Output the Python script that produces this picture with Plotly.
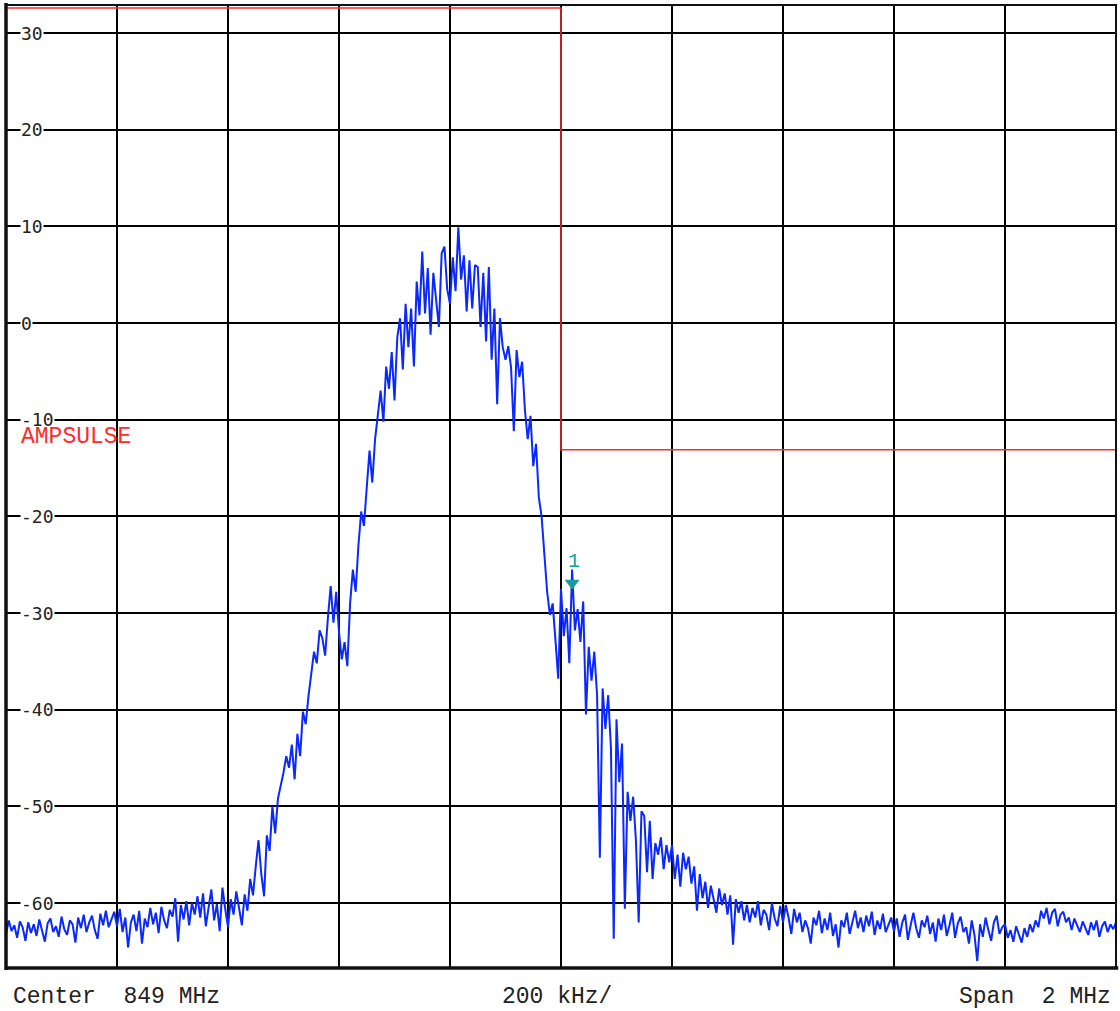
import plotly.graph_objects as go

# ---------------- data ----------------
f_start_mhz = 848.0
f_step_mhz = 0.005
trace_db = [
    -63.2, -61.8, -62.9, -62.3, -63.6, -61.9, -62.5, -63.9, -62.0, -63.1,
    -62.2, -63.4, -61.7, -62.8, -64.0, -62.1, -61.6, -63.0, -62.4, -63.5,
    -61.4, -62.7, -63.3, -61.8, -62.2, -64.1, -61.5, -62.6, -61.2, -63.0,
    -62.0, -61.3, -62.8, -63.7, -61.1, -62.3, -60.8, -62.5, -61.6, -60.9,
    -62.4, -60.6, -63.0, -61.5, -64.6, -62.0, -61.2, -62.9, -60.8, -64.2,
    -61.6, -62.5, -60.5, -62.2, -61.0, -63.1, -60.4, -61.8, -62.6, -60.7,
    -61.4, -59.5, -64.0, -60.2, -61.7, -59.8, -62.3, -60.0, -61.2, -59.3,
    -61.5, -59.0, -62.4, -60.3, -58.6, -61.8, -60.1, -62.9, -58.4, -60.6,
    -62.5, -59.6, -61.2, -58.8, -60.5, -62.3, -59.1, -60.8, -57.5, -59.2,
    -56.2, -53.5, -57.0, -59.3, -53.0, -54.6, -50.0, -52.8, -49.2, -48.0,
    -46.5, -44.8, -46.0, -43.6, -47.2, -42.5, -44.8, -40.2, -41.5, -38.6,
    -36.5, -34.0, -35.2, -31.8, -32.6, -34.4, -30.5, -27.2, -31.0, -27.8,
    -32.0, -34.8, -33.0, -35.5, -29.0, -25.5, -27.8, -23.0, -19.5, -21.0,
    -17.0, -13.2, -16.5, -12.0, -9.5, -7.0, -10.2, -4.5, -6.8, -3.0,
    -8.0, -1.5, 0.5, -4.8, 2.0, -2.5, 1.5, -4.5, 4.3, 0.8,
    7.4, 1.0, 5.7, -1.2, 5.2, 2.0, -0.4, 7.2, 7.9, 3.5,
    2.0, 6.8, 3.3, 9.9, 4.5, 7.0, 1.2, 6.5, 1.5, 6.0,
    5.8, -0.4, 5.2, -1.9, 5.8, -3.8, 1.5, -8.4, 0.5, -2.5,
    -3.8, -2.4, -4.6, -11.2, -2.8, -5.6, -4.0, -9.0, -12.0, -9.6,
    -14.8, -12.5, -18.0, -20.0, -24.5, -27.8, -30.2, -29.0, -32.8, -36.8,
    -27.5, -32.4, -29.5, -35.2, -25.5, -31.8, -29.6, -33.0, -28.8, -40.5,
    -33.5, -37.0, -34.0, -38.5, -55.3, -37.8, -42.0, -38.5, -44.0, -63.7,
    -41.0, -47.5, -43.5, -60.6, -48.5, -51.5, -49.0, -53.5, -62.0, -50.5,
    -51.0, -56.8, -51.5, -57.5, -53.8, -55.0, -53.2, -56.5, -54.0, -55.8,
    -54.0, -57.5, -55.0, -58.3, -54.8, -56.5, -55.2, -58.0, -56.2, -60.8,
    -57.0, -59.5, -57.8, -60.5, -58.2, -59.8, -61.0, -58.5, -60.2, -59.0,
    -61.2, -59.2, -64.3, -59.6, -61.0, -59.8, -61.8, -60.2, -62.0, -60.5,
    -61.5, -59.8, -62.3, -60.7, -61.2, -62.8, -60.0, -61.6, -62.4, -60.3,
    -62.0, -60.2, -61.5, -63.2, -60.6, -62.0, -61.0, -63.0, -61.8, -62.6,
    -64.2, -61.5, -62.3, -60.8, -63.1, -61.6, -62.8, -61.0, -63.4, -62.2,
    -64.6, -61.8, -62.5, -61.0, -63.2, -62.0, -60.8, -62.6, -61.5, -63.0,
    -61.3, -62.4, -60.9, -63.3, -61.8, -62.7, -61.1, -63.0, -62.2, -61.5,
    -62.9, -61.6, -63.5, -62.0, -61.2, -63.8, -62.3, -61.0, -62.6, -63.6,
    -61.8, -62.5, -61.3, -63.2, -62.0, -64.0, -61.6, -62.8, -61.2, -63.4,
    -62.3, -61.0, -63.6, -62.1, -61.4, -63.0, -62.5, -64.2, -61.8, -63.3,
    -66.0, -62.2, -63.5, -61.5, -62.8, -63.9, -62.0, -61.3, -63.2, -62.5,
    -62.2, -63.6, -62.8, -64.0, -62.4, -63.2, -64.1, -62.6, -63.5, -62.2,
    -63.0, -61.8, -62.5, -60.8, -61.6, -60.5, -62.2, -61.0, -60.6, -62.4,
    -61.2, -60.9, -62.0, -61.5, -62.8, -61.6, -62.3, -63.0, -61.9, -62.6,
    -63.3, -62.0, -62.8, -61.8, -63.5, -62.4, -61.9, -63.0, -62.2, -62.7,
    -62.0,
]
freq_mhz = [f_start_mhz + i * f_step_mhz for i in range(len(trace_db))]

limit_freq_mhz = [848.0, 849.0, 849.0, 850.0]
limit_db = [32.6, 32.6, -13.1, -13.1]
limit_name = "AMPSULSE"

marker_freq_mhz = 849.02
marker_db = -26.9
marker_label = "1"

y_tick_vals = [30, 20, 10, 0, -10, -20, -30, -40, -50, -60]
y_tick_text = ["30", "20", "10", "0", "-10", "-20", "-30", "-40", "-50", "-60"]

footer_left = "Center\u00a0\u00a0849 MHz"
footer_mid = "200 kHz/"
footer_right = "Span\u00a0\u00a02 MHz"

# ---------------- figure ----------------
fig = go.Figure()

fig.add_trace(go.Scatter(
    x=limit_freq_mhz, y=limit_db, mode="lines",
    line=dict(color="#ff2a2a", width=1.5), hoverinfo="skip", showlegend=False))

fig.add_trace(go.Scatter(
    x=freq_mhz, y=trace_db, mode="lines",
    line=dict(color="#0a28ff", width=2), showlegend=False))

fig.add_trace(go.Scatter(
    x=[marker_freq_mhz], y=[marker_db], mode="markers",
    marker=dict(symbol="triangle-down", size=13, color="#179d9d"),
    showlegend=False))

annotations = []
for v, t in zip(y_tick_vals, y_tick_text):
    annotations.append(dict(
        x=(20 - 6) / 1110, xref="paper", y=v, yref="y", text=t,
        showarrow=False, xanchor="left", yanchor="middle",
        font=dict(family="DejaVu Sans Mono", size=18, color="#222222"),
        bgcolor="white", borderpad=0))

annotations.append(dict(
    x=(19 - 6) / 1110, xref="paper", y=-11.75, yref="y", text=limit_name,
    showarrow=False, xanchor="left", yanchor="middle",
    font=dict(family="Liberation Mono", size=23, color="#ff2a2a")))

annotations.append(dict(
    x=marker_freq_mhz + 0.004, y=marker_db, xref="x", yref="y",
    text=marker_label, showarrow=False, yshift=22,
    font=dict(family="Liberation Mono", size=20, color="#179d9d")))

ybot = -(997 - 968) / 963
foot_font = dict(family="Liberation Mono", size=23, color="#222222")
annotations.append(dict(x=(11 - 6) / 1110, y=ybot, xref="paper", yref="paper",
                        text=footer_left, showarrow=False, xanchor="left", yanchor="middle",
                        font=foot_font))
annotations.append(dict(x=(557 - 6) / 1110, y=ybot, xref="paper", yref="paper",
                        text=footer_mid, showarrow=False, xanchor="center", yanchor="middle",
                        font=foot_font))
annotations.append(dict(x=(1113 - 6) / 1110, y=ybot, xref="paper", yref="paper",
                        text=footer_right, showarrow=False, xanchor="right", yanchor="middle",
                        font=foot_font))

shapes = [
    dict(type="line", xref="paper", yref="paper", x0=0, x1=0, y0=-0.002, y1=1.002,
         line=dict(color="#111111", width=3.5), layer="above"),
    dict(type="line", xref="paper", yref="paper", x0=0, x1=1.002, y0=0, y1=0,
         line=dict(color="#111111", width=3.5), layer="above"),
    dict(type="line", xref="paper", yref="paper", x0=0, x1=1.001, y0=1, y1=1,
         line=dict(color="#111111", width=2), layer="above"),
    dict(type="line", xref="paper", yref="paper", x0=1, x1=1, y0=0, y1=1,
         line=dict(color="#111111", width=2), layer="above"),
]

fig.update_layout(
    width=1120, height=1011,
    margin=dict(l=6, r=4, t=5, b=43),
    paper_bgcolor="white", plot_bgcolor="white",
    xaxis=dict(range=[848.0, 850.0], tick0=848.0, dtick=0.2,
               showgrid=True, gridcolor="#000000", gridwidth=1.5,
               showticklabels=False, zeroline=False, showline=False, ticks=""),
    yaxis=dict(range=[-66.72, 32.9], tickvals=y_tick_vals,
               showgrid=True, gridcolor="#000000", gridwidth=2,
               showticklabels=False, zeroline=False, showline=False, ticks=""),
    annotations=annotations,
    shapes=shapes,
    showlegend=False,
)

fig.write_html(
    "out.html",
    config={"displayModeBar": False},
    post_script="document.body.style.margin='0';document.body.style.padding='0';"
                "document.body.style.overflow='hidden';",
)
